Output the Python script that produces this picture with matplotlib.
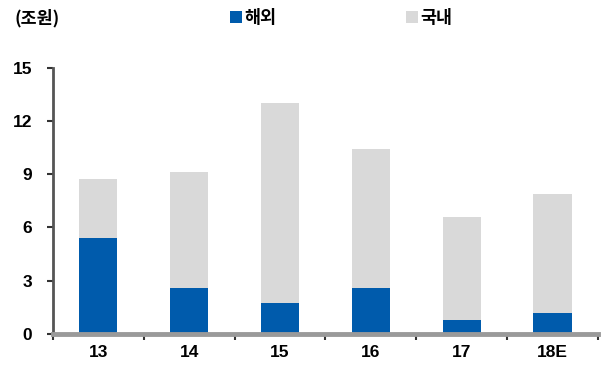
import matplotlib
matplotlib.use("Agg")
import matplotlib.pyplot as plt
from matplotlib.patches import Patch
import numpy as np

plt.rcParams['font.family'] = ['Liberation Sans', 'Noto Sans CJK KR', 'DejaVu Sans']

# 연도별 수주 (조원)
years = ['13', '14', '15', '16', '17', '18E']
overseas = [5.4, 2.6, 1.75, 2.6, 0.8, 1.2]
total = [8.75, 9.1, 13.0, 10.4, 6.6, 7.9]
domestic = [t - o for t, o in zip(total, overseas)]
yticks = [0, 3, 6, 9, 12, 15]

blue = '#005BAC'
grey = '#D9D9D9'

fig = plt.figure(figsize=(6.04, 3.68), dpi=100)
ax = fig.add_axes([0.0877, 0.0924, 0.9023, 0.7236])

x = np.arange(len(years))
ax.bar(x, overseas, width=0.42, color=blue, zorder=2)
ax.bar(x, domestic, width=0.42, bottom=overseas, color=grey, zorder=2)

ax.set_xlim(-0.5, len(years) - 0.5)
ax.set_ylim(0, 15)
ax.set_yticks(yticks)
ax.set_yticklabels([str(v) for v in yticks], fontsize=12.5, fontweight='bold')

# 눈금은 막대 사이 경계에
ax.set_xticks(np.arange(-0.5, len(years), 1.0))
ax.set_xticklabels([])
ax.set_xticks(x, minor=True)
ax.set_xticklabels(years, minor=True, fontsize=12.5, fontweight='bold')
ax.tick_params(axis='x', which='minor', length=0, pad=8)
ax.tick_params(axis='x', which='major', length=4, width=1.5, color='#333333', direction='out')
ax.tick_params(axis='y', length=4, width=1.5, color='#333333', direction='out', pad=11)

for s in ['top', 'right']:
    ax.spines[s].set_visible(False)
ax.spines['left'].set_color('#555555')
ax.spines['left'].set_linewidth(2)
ax.spines['bottom'].set_color('#9A9A9A')
ax.spines['bottom'].set_linewidth(3.5)
ax.spines['bottom'].set_zorder(3)

fig.text(0.024, 0.95, '(조원)', fontsize=12.5, fontweight='bold',
         family=['Noto Sans CJK KR', 'DejaVu Sans'], va='center', ha='left')

kr = {'family': ['Noto Sans CJK KR', 'DejaVu Sans'], 'weight': 'bold', 'size': 12.5}
for label, color, xpos in [('해외', blue, 0.380), ('국내', grey, 0.672)]:
    leg = fig.legend(handles=[Patch(facecolor=color, edgecolor='none', label=label)],
                     loc='center left', bbox_to_anchor=(xpos, 0.95), frameon=False,
                     handlelength=0.7, handleheight=0.7, handletextpad=0.15,
                     borderpad=0, borderaxespad=0, prop=kr)

fig.savefig('out.png', dpi=100)
